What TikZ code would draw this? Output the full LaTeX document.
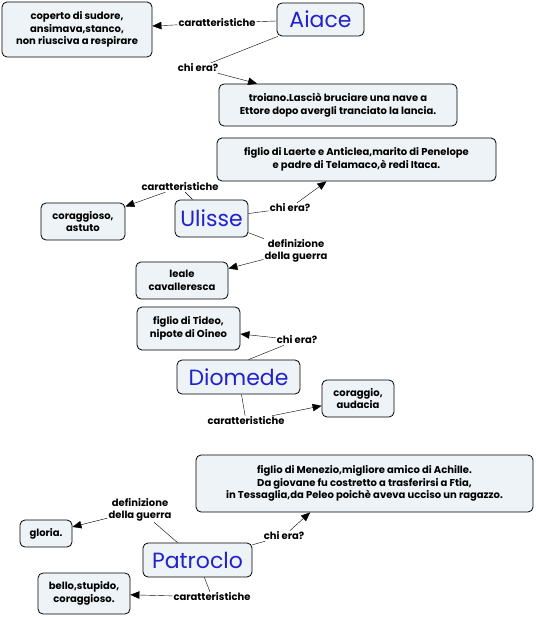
\documentclass[tikz,border=0pt]{standalone}
\usepackage{fontspec}
\setmainfont{Poppins}
\usetikzlibrary{positioning, arrows.meta}
\definecolor{cmFill}{HTML}{EDF3F6}
\definecolor{cmBlue}{HTML}{2222CC}
\tikzset{
  every node/.style={font=\fontsize{10}{12}\selectfont},
  arr/.style={-{Triangle[length=9pt, width=7.5pt]}, thin},
  lnk/.style={thin},
  concept/.style={draw, line width=0.8pt, rounded corners=5pt, fill=cmFill, inner sep=2pt,
                  align=center, font=\fontsize{10}{12.5}\selectfont\bfseries},
  hero/.style={concept, text=cmBlue, font=\fontsize{22}{24}\selectfont},
  phrase/.style={inner sep=1pt, align=center, font=\fontsize{10}{11.5}\selectfont\bfseries},
}

\begin{document}
\begin{tikzpicture}[x=1pt, y=-1pt]
  \useasboundingbox (0,0) rectangle (535,617);
  % Aiace
  \node[hero, minimum width=87, minimum height=33] (aiace) at (320.5,19.5) {Aiace};
  \node[concept, minimum width=150, minimum height=55] (sudore) at (77,29.5)
    {coperto di sudore,\\ansimava,stanco,\\non riusciva a respirare};
  \node[concept, minimum width=238, minimum height=42] (troiano) at (338,105)
    {troiano.Lasciò bruciare una nave a\\Ettore dopo avergli tranciato la lancia.};
  \node[phrase] (aiaceCar) at (217,23) {caratteristiche};
  \node[phrase] (aiaceChi) at (198,68) {chi era?};
  \draw[lnk] (aiace) -- (aiaceCar);
  \draw[arr] (aiaceCar) -- (sudore);
  \draw[lnk] (aiace) -- (aiaceChi);
  \draw[arr] (aiaceChi) -- (troiano);
  % Ulisse
  \node[hero, minimum width=73, minimum height=37] (ulisse) at (211.5,218.5) {Ulisse};
  \node[concept, minimum width=279, minimum height=43] (laerte) at (356.5,159.5)
    {figlio di Laerte e Anticlea,marito di Penelope\\e padre di Telamaco,è redi Itaca.};
  \node[concept, minimum width=84, minimum height=37] (astuto) at (83,221.5)
    {coraggioso,\\astuto};
  \node[concept, minimum width=92, minimum height=37] (leale) at (182,280.5)
    {leale\\cavalleresca};
  \node[phrase] (ulisseCar) at (180,187) {caratteristiche};
  \node[phrase] (ulisseChi) at (290,208) {chi era?};
  \node[phrase] (ulisseDef) at (296,251) {definizione\\della guerra};
  \draw[lnk] (ulisse) -- (ulisseCar);
  \draw[arr] (ulisseCar) -- (astuto);
  \draw[lnk] (ulisse) -- (ulisseChi);
  \draw[arr] (ulisseChi) -- (laerte);
  \draw[lnk] (ulisse) -- (ulisseDef);
  \draw[arr] (ulisseDef) -- (leale);
  % Diomede
  \node[hero, minimum width=123, minimum height=34] (diomede) at (238.5,377) {Diomede};
  \node[concept, minimum width=103, minimum height=43] (tideo) at (188.5,328.5)
    {figlio di Tideo,\\nipote di Oineo};
  \node[concept, minimum width=72, minimum height=37] (audacia) at (358,398.5)
    {coraggio,\\audacia};
  \node[phrase] (diomedeChi) at (297,340) {chi era?};
  \node[phrase] (diomedeCar) at (246,421) {caratteristiche};
  \draw[lnk] (diomede.60) -- (diomedeChi);
  \draw[arr] (diomedeChi) -- (tideo);
  \draw[lnk] (diomede) -- (diomedeCar);
  \draw[arr] (diomedeCar) -- (audacia);
  % Patroclo
  \node[hero, minimum width=109, minimum height=34] (patroclo) at (197.5,560) {Patroclo};
  \node[concept, minimum width=337, minimum height=57] (menezio) at (364.5,483.5)
    {figlio di Menezio,migliore amico di Achille.\\Da giovane fu costretto a trasferirsi a Ftia,\\in Tessaglia,da Peleo poichè aveva ucciso un ragazzo.};
  \node[concept, minimum width=52, minimum height=27] (gloria) at (46,533.5) {gloria.};
  \node[concept, minimum width=92, minimum height=41] (bello) at (84,593.5)
    {bello,stupido,\\coraggioso.};
  \node[phrase] (patrocloDef) at (140,510) {definizione\\della guerra};
  \node[phrase] (patrocloChi) at (284,536) {chi era?};
  \node[phrase] (patrocloCar) at (212,597) {caratteristiche};
  \draw[lnk] (patroclo) -- (patrocloDef);
  \draw[arr] (patrocloDef) -- (gloria);
  \draw[lnk] (patroclo) -- (patrocloChi);
  \draw[arr] (patrocloChi) -- (menezio.208);
  \draw[lnk] (patroclo) -- (patrocloCar);
  \draw[arr] (patrocloCar) -- (bello);
\end{tikzpicture}
\end{document}
